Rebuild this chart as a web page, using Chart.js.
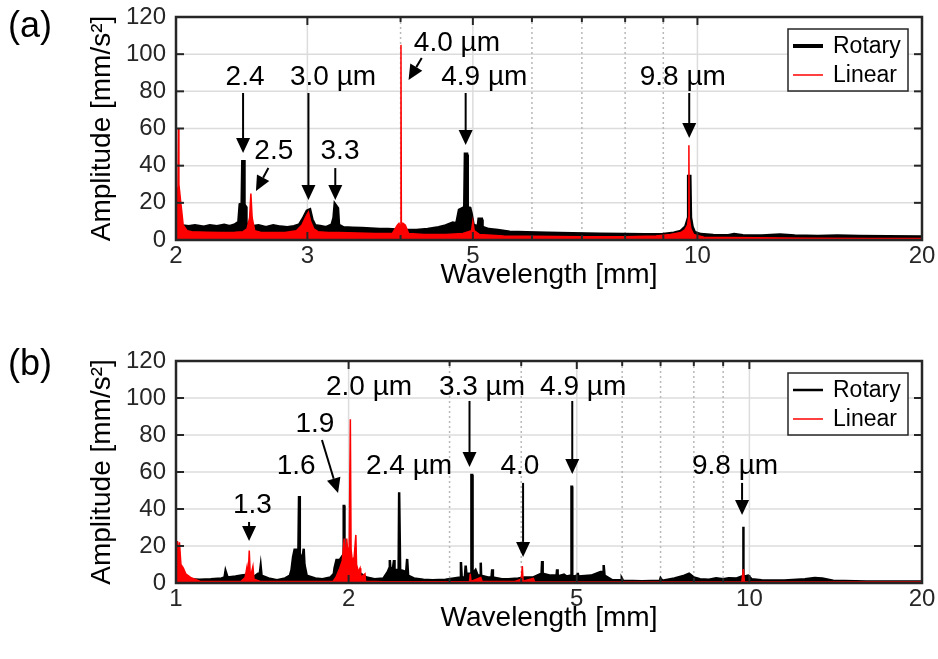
<!DOCTYPE html>
<html>
<head>
<meta charset="utf-8">
<script src="https://cdn.jsdelivr.net/npm/chart.js@4.4.0/dist/chart.umd.min.js"></script>
<style>
  body { margin: 0; background: #fff; }
  #wrap { position: relative; width: 938px; height: 659px; }
  canvas { position: absolute; left: 0; }
</style>
</head>
<body>
<div id="wrap">
  <canvas id="chartA" width="938" height="330" style="top:0"></canvas>
  <canvas id="chartB" width="938" height="329" style="top:330px"></canvas>
</div>
<script>
// wavelength [mm], amplitude [mm/s^2] (upper envelope + peaks)
const rotaryA = [
  [2.0, 0], [2.005, 8], [2.03, 7.5], [2.08, 7], [2.12, 7.5], [2.18, 6.8], [2.22, 7.5], [2.27, 7],
  [2.32, 7.8], [2.36, 7], [2.40, 8], [2.43, 9.5], [2.44, 19], [2.455, 19.5], [2.46, 43], [2.465, 19],
  [2.475, 18], [2.48, 9], [2.50, 8], [2.53, 7], [2.58, 7.5], [2.64, 6.5], [2.70, 7.5], [2.76, 6.8],
  [2.82, 6.5], [2.88, 7], [2.93, 8], [2.97, 12], [3.0, 15.5], [3.02, 16], [3.04, 11], [3.07, 7.5],
  [3.12, 7.2], [3.18, 6.5], [3.24, 8], [3.26, 12], [3.27, 18.5], [3.29, 17], [3.30, 8], [3.35, 6.5],
  [3.45, 6.2], [3.55, 6], [3.65, 5.8], [3.75, 5.5], [3.85, 5.5], [3.95, 5.2], [4.05, 5], [4.2, 5],
  [4.35, 5.5], [4.5, 6.5], [4.6, 7.5], [4.7, 9], [4.76, 8.5], [4.8, 16], [4.86, 17], [4.88, 17.5],
  [4.89, 46], [4.9, 46], [4.91, 17.5], [4.95, 17], [4.97, 14], [5.0, 8], [5.06, 7], [5.09, 8],
  [5.10, 11], [5.13, 11], [5.14, 7], [5.16, 6.5], [5.25, 5.5], [5.4, 5], [5.6, 4], [5.9, 3.8],
  [6.3, 3.5], [6.8, 3.2], [7.4, 3], [8.0, 2.8], [8.5, 2.7], [9.0, 2.8], [9.3, 3.5], [9.5, 4.5],
  [9.65, 7], [9.72, 11], [9.74, 34], [9.76, 34], [9.78, 12], [9.83, 7], [9.9, 4], [10.1, 2.8],
  [10.5, 2.3], [11.0, 2.2], [11.2, 2.8], [11.5, 2.2], [12.2, 2], [12.9, 2.6], [13.5, 2], [14.5, 1.8],
  [15.4, 2], [16.5, 1.7], [18, 1.6], [20, 1.5]
];
const linearA = [
  [2.0, 0], [2.003, 28], [2.012, 28], [2.015, 60], [2.018, 30], [2.03, 20], [2.045, 8], [2.07, 5],
  [2.1, 4.5], [2.2, 4.2], [2.3, 4], [2.4, 4.2], [2.46, 4.5], [2.49, 6], [2.51, 12], [2.52, 25],
  [2.53, 12], [2.55, 5], [2.6, 4], [2.7, 4], [2.8, 4], [2.9, 5], [2.95, 8], [2.99, 13], [3.01, 15],
  [3.03, 10], [3.06, 6], [3.1, 4.5], [3.2, 4], [3.3, 4], [3.5, 3.8], [3.7, 3.5], [3.9, 3.5],
  [3.96, 8], [3.98, 9], [4.0, 7], [4.005, 105], [4.01, 7], [4.03, 9], [4.06, 8], [4.1, 3.5],
  [4.3, 3], [4.6, 3], [4.85, 3.5], [4.98, 5], [5.0, 10], [5.02, 5], [5.1, 3], [5.5, 2.2], [6, 2],
  [7, 1.8], [8, 1.8], [8.8, 2.2], [9.2, 3], [9.5, 4], [9.62, 5.5], [9.7, 8], [9.73, 12], [9.74, 51],
  [9.75, 12], [9.8, 6], [9.88, 3], [10.2, 1.5], [11, 1.3], [12, 1.2], [14, 1], [17, 0.8], [20, 0.8]
];
const rotaryB = [
  [1.0, 0], [1.005, 5], [1.02, 4], [1.04, 3], [1.06, 2], [1.1, 1.8], [1.15, 2], [1.2, 2.5],
  [1.215, 3], [1.22, 6.5], [1.23, 3], [1.27, 3.5], [1.3, 4], [1.33, 4.5], [1.37, 3.5], [1.39, 5],
  [1.4, 5], [1.405, 9], [1.41, 4], [1.45, 2.5], [1.5, 1.5], [1.55, 2.5], [1.58, 4], [1.59, 7],
  [1.6, 14], [1.61, 18], [1.635, 18], [1.638, 18], [1.639, 47], [1.643, 47], [1.645, 16],
  [1.66, 12], [1.665, 12], [1.67, 18.5], [1.675, 10], [1.69, 4], [1.75, 2.5], [1.8, 2], [1.86, 3],
  [1.885, 5], [1.89, 8], [1.905, 12.5], [1.93, 12.5], [1.955, 15], [1.959, 15], [1.961, 41.6],
  [1.965, 41.6], [1.967, 16], [1.99, 12], [2.02, 8], [2.06, 7], [2.1, 5], [2.15, 3], [2.22, 2],
  [2.3, 2.5], [2.34, 6], [2.355, 8], [2.36, 12.4], [2.365, 8], [2.39, 8], [2.4, 12.4], [2.405, 7],
  [2.445, 7], [2.45, 49], [2.455, 49], [2.46, 7], [2.52, 6], [2.53, 13], [2.54, 4], [2.6, 2.5],
  [2.7, 1.8], [2.8, 1.5], [2.95, 1.8], [3.05, 2.5], [3.13, 3], [3.14, 11.3], [3.15, 3], [3.19, 3],
  [3.2, 9.4], [3.21, 5], [3.27, 5], [3.275, 58.4], [3.285, 58.4], [3.29, 5], [3.33, 7], [3.36, 4],
  [3.395, 4], [3.40, 11], [3.405, 4], [3.5, 3], [3.55, 3], [3.56, 7.4], [3.57, 3], [3.7, 2],
  [3.8, 2], [3.95, 2.5], [4.05, 3], [4.2, 3], [4.3, 4.5], [4.34, 5], [4.35, 11.9], [4.36, 5],
  [4.5, 4], [4.61, 4], [4.62, 7.4], [4.63, 3.5], [4.75, 4.5], [4.8, 3.5], [4.89, 4], [4.895, 52],
  [4.905, 52], [4.91, 4], [4.95, 3.5], [5.01, 4], [5.02, 5.5], [5.03, 3.5], [5.3, 4], [5.5, 6],
  [5.56, 6], [5.57, 9.7], [5.59, 4], [5.76, 1.6], [5.98, 1.5], [5.99, 2.5], [6.02, 1.2], [6.5, 1],
  [6.98, 1.2], [7.0, 2.5], [7.05, 1.2], [7.4, 2.5], [7.7, 4], [7.85, 5], [8.0, 3], [8.2, 2],
  [8.5, 1.8], [8.75, 2.6], [9.0, 2], [9.2, 2.6], [9.5, 2.5], [9.7, 3.5], [9.75, 3.5], [9.755, 30.4],
  [9.765, 30.4], [9.77, 3.5], [9.82, 3.5], [9.95, 4], [10.1, 2], [10.5, 1.5], [11.5, 1.3],
  [12.5, 2], [13.0, 2.7], [13.4, 2.5], [14, 1.2], [16, 0.8], [20, 0.8]
];
const linearB = [
  [1.0, 0], [1.002, 18], [1.006, 22.7], [1.01, 12], [1.014, 22], [1.02, 10], [1.03, 8], [1.04, 5],
  [1.06, 3], [1.1, 1], [1.2, 0.8], [1.3, 1], [1.32, 3], [1.33, 8.8], [1.336, 3], [1.342, 17.5],
  [1.348, 3], [1.362, 9], [1.368, 2], [1.4, 1], [1.6, 0.8], [1.88, 1], [1.9, 3], [1.93, 8],
  [1.95, 12], [1.965, 24], [1.975, 10], [1.985, 24], [1.995, 15], [2.005, 20], [2.014, 88.5],
  [2.02, 18], [2.03, 12], [2.045, 14], [2.059, 26], [2.065, 10], [2.08, 6], [2.094, 8], [2.1, 3],
  [2.136, 5], [2.14, 1], [2.3, 0.7], [3.25, 0.8], [3.26, 5], [3.27, 0.8], [3.4, 3], [3.42, 0.8],
  [3.9, 0.8], [4.0, 2], [4.018, 9.2], [4.03, 1], [4.2, 2.5], [4.22, 0.7], [5, 0.6], [9.7, 0.6],
  [9.76, 7.5], [9.8, 0.6], [20, 0.5]
];

const seriesNames = ['Rotary', 'Linear'];
const yTicks = [0, 20, 40, 60, 80, 100, 120];
const xMajorA = [2, 3, 5, 10, 20];
const xMinorA = [4, 6, 7, 8, 9];
const xMajorB = [1, 2, 5, 10, 20];
const xMinorB = [3, 4, 6, 7, 8, 9];

// peak labels: text spot and arrow (from -> to), in wavelength / amplitude units
const notesA = [
  { text: '2.4', at: [2.475, 83.4], from: [2.46, 79.1], to: [2.46, 46.8] },
  { text: '2.5', at: [2.705, 43.6], from: [2.66, 38.7], to: [2.56, 26.4] },
  { text: '3.0 µm', at: [3.248, 83.4], from: [3.01, 79.1], to: [3.01, 21.5] },
  { text: '3.3', at: [3.318, 43.6], from: [3.27, 38.7], to: [3.27, 21.5] },
  { text: '4.0 µm', at: [4.76, 101.7], from: [4.27, 97.9], to: [4.10, 86.1] },
  { text: '4.9 µm', at: [5.18, 83.4], from: [4.89, 79.1], to: [4.89, 51.1] },
  { text: '9.8 µm', at: [9.56, 83.4], from: [9.75, 79.1], to: [9.75, 54.9] }
];
const notesB = [
  { text: '1.3', at: [1.359, 37.8], from: [1.341, 33.0], to: [1.341, 22.7] },
  { text: '1.6', at: [1.620, 58.9] },
  { text: '1.9', at: [1.747, 81.6], from: [1.797, 77.3], to: [1.917, 48.6] },
  { text: '2.0 µm', at: [2.171, 101.6] },
  { text: '2.4 µm', at: [2.549, 58.9] },
  { text: '3.3 µm', at: [3.417, 101.6], from: [3.25, 98.4], to: [3.25, 62.7] },
  { text: '4.0', at: [3.98, 58.9], from: [4.03, 54.1], to: [4.03, 14.1] },
  { text: '4.9 µm', at: [5.13, 101.6], from: [4.91, 98.4], to: [4.91, 58.9] },
  { text: '9.8 µm', at: [9.44, 58.9], from: [9.71, 54.1], to: [9.71, 36.8] }
];

const FONT = "'Liberation Sans', Arial, sans-serif";
const INK = '#262626';
Chart.defaults.font.family = FONT;
Chart.defaults.color = INK;

function toPoints(arr) {
  return arr.map(p => ({ x: p[0], y: p[1] }));
}

function line(ctx, x0, y0, x1, y1) {
  ctx.beginPath();
  ctx.moveTo(x0, y0);
  ctx.lineTo(x1, y1);
  ctx.stroke();
}

function drawArrow(ctx, x0, y0, x1, y1) {
  const ang = Math.atan2(y1 - y0, x1 - x0);
  const hl = 15, hw = 7;
  const bx = x1 - hl * Math.cos(ang), by = y1 - hl * Math.sin(ang);
  ctx.lineWidth = 2;
  line(ctx, x0, y0, bx, by);
  ctx.beginPath();
  ctx.moveTo(x1, y1);
  ctx.lineTo(bx + hw * Math.sin(ang), by - hw * Math.cos(ang));
  ctx.lineTo(bx - hw * Math.sin(ang), by + hw * Math.cos(ang));
  ctx.closePath();
  ctx.fill();
}

function makeDecor(panel, major, minor, notes, widths, labelY) {
  return {
    id: 'decor',
    beforeDatasetsDraw(chart) {
      const { ctx, chartArea: a, scales: { x, y } } = chart;
      ctx.save();
      ctx.strokeStyle = '#dcdcdc';
      ctx.lineWidth = 1.5;
      yTicks.forEach(v => {
        if (v > 0 && v < 120) {
          const py = y.getPixelForValue(v);
          line(ctx, a.left, py, a.right, py);
        }
      });
      major.forEach(v => {
        const px = x.getPixelForValue(v);
        line(ctx, px, a.top, px, a.bottom);
      });
      ctx.strokeStyle = '#b8b8b8';
      ctx.setLineDash([2, 3]);
      minor.forEach(v => {
        const px = x.getPixelForValue(v);
        line(ctx, px, a.top, px, a.bottom);
      });
      ctx.restore();
    },
    afterDatasetsDraw(chart) {
      const { ctx, chartArea: a, scales: { x, y } } = chart;
      ctx.save();
      // peak labels and arrows
      ctx.fillStyle = '#000';
      ctx.strokeStyle = '#000';
      ctx.font = '28px ' + FONT;
      ctx.textAlign = 'center';
      ctx.textBaseline = 'alphabetic';
      notes.forEach(n => {
        ctx.fillText(n.text, x.getPixelForValue(n.at[0]), y.getPixelForValue(n.at[1]));
        if (n.from) {
          drawArrow(ctx, x.getPixelForValue(n.from[0]), y.getPixelForValue(n.from[1]),
            x.getPixelForValue(n.to[0]), y.getPixelForValue(n.to[1]));
        }
      });

      // box + inward ticks
      ctx.strokeStyle = INK;
      ctx.lineWidth = 2.5;
      ctx.strokeRect(a.left, a.top, a.right - a.left, a.bottom - a.top);
      ctx.lineWidth = 2;
      yTicks.forEach(v => {
        const py = y.getPixelForValue(v);
        line(ctx, a.left, py, a.left + 8, py);
        line(ctx, a.right, py, a.right - 8, py);
      });
      major.forEach(v => {
        const px = x.getPixelForValue(v);
        line(ctx, px, a.top, px, a.top + 8);
        line(ctx, px, a.bottom, px, a.bottom - 8);
      });
      minor.forEach(v => {
        const px = x.getPixelForValue(v);
        line(ctx, px, a.top, px, a.top + 5);
        line(ctx, px, a.bottom, px, a.bottom - 5);
      });

      // legend
      const bx = a.right - 134, by = a.top + 12, bw = 120, bh = 62;
      ctx.fillStyle = '#fff';
      ctx.fillRect(bx, by, bw, bh);
      ctx.lineWidth = 1.5;
      ctx.strokeRect(bx, by, bw, bh);
      ctx.font = '23px ' + FONT;
      ctx.textAlign = 'left';
      ctx.textBaseline = 'middle';
      chart.data.datasets.forEach((ds, i) => {
        const ly = by + 17 + i * 29;
        ctx.strokeStyle = ds.borderColor;
        ctx.lineWidth = widths[i];
        line(ctx, bx + 5, ly, bx + 35, ly);
        ctx.fillStyle = '#000';
        ctx.fillText(ds.label, bx + 45, ly + 1);
      });

      // panel tag
      ctx.font = '36px ' + FONT;
      ctx.fillStyle = '#000';
      ctx.textBaseline = 'alphabetic';
      ctx.fillText(panel, 8, labelY);
      ctx.restore();
    }
  };
}

function makeChart(id, rot, lin, xMin, major, minor, notes, opt) {
  const ctx = document.getElementById(id);
  const widths = [opt.rotaryWidth, 1.5];
  new Chart(ctx, {
    type: 'line',
    data: {
      datasets: [{
        label: seriesNames[0],
        data: toPoints(rot),
        borderColor: '#000000',
        backgroundColor: '#000000',
        borderWidth: widths[0],
        fill: 'origin',
        pointRadius: 0,
        order: 2
      }, {
        label: seriesNames[1],
        data: toPoints(lin),
        borderColor: '#ff0000',
        backgroundColor: '#ff0000',
        borderWidth: widths[1],
        fill: 'origin',
        pointRadius: 0,
        order: 1
      }]
    },
    options: {
      responsive: false,
      animation: false,
      devicePixelRatio: 1,
      layout: { padding: { top: opt.top, right: 16, left: 0, bottom: 0 } },
      plugins: { legend: { display: false }, tooltip: { enabled: false } },
      scales: {
        x: {
          type: 'logarithmic',
          min: xMin,
          max: 20,
          grid: { display: false, drawTicks: false },
          border: { display: false },
          afterBuildTicks: s => { s.ticks = major.map(v => ({ value: v })); },
          afterFit: s => { s.height = opt.xHeight; s.paddingLeft = 0; s.paddingRight = 0; },
          ticks: {
            autoSkip: false,
            maxRotation: 0,
            padding: 2,
            font: { size: 24 },
            callback: v => String(v)
          },
          title: {
            display: true,
            text: 'Wavelength [mm]',
            font: { size: 28 },
            color: '#000',
            padding: { top: 0, bottom: opt.xTitlePad }
          }
        },
        y: {
          min: 0,
          max: 120,
          grid: { display: false, drawTicks: false },
          border: { display: false },
          afterFit: s => { s.width = 176; s.paddingTop = 0; s.paddingBottom = 0; },
          ticks: { stepSize: 20, padding: 10, font: { size: 24 } },
          title: {
            display: true,
            text: 'Amplitude [mm/s²]',
            font: { size: 28 },
            color: '#000',
            padding: { top: 85, bottom: 0 }
          }
        }
      }
    },
    plugins: [makeDecor(opt.panel, major, minor, notes, widths, opt.labelY)]
  });
}

makeChart('chartA', rotaryA, linearA, 2, xMajorA, xMinorA, notesA,
  { top: 17, xHeight: 90, xTitlePad: 38, rotaryWidth: 4, panel: '(a)', labelY: 37 });
makeChart('chartB', rotaryB, linearB, 1, xMajorB, xMinorB, notesB,
  { top: 31, xHeight: 76, xTitlePad: 24, rotaryWidth: 2.5, panel: '(b)', labelY: 45 });
</script>
</body>
</html>
